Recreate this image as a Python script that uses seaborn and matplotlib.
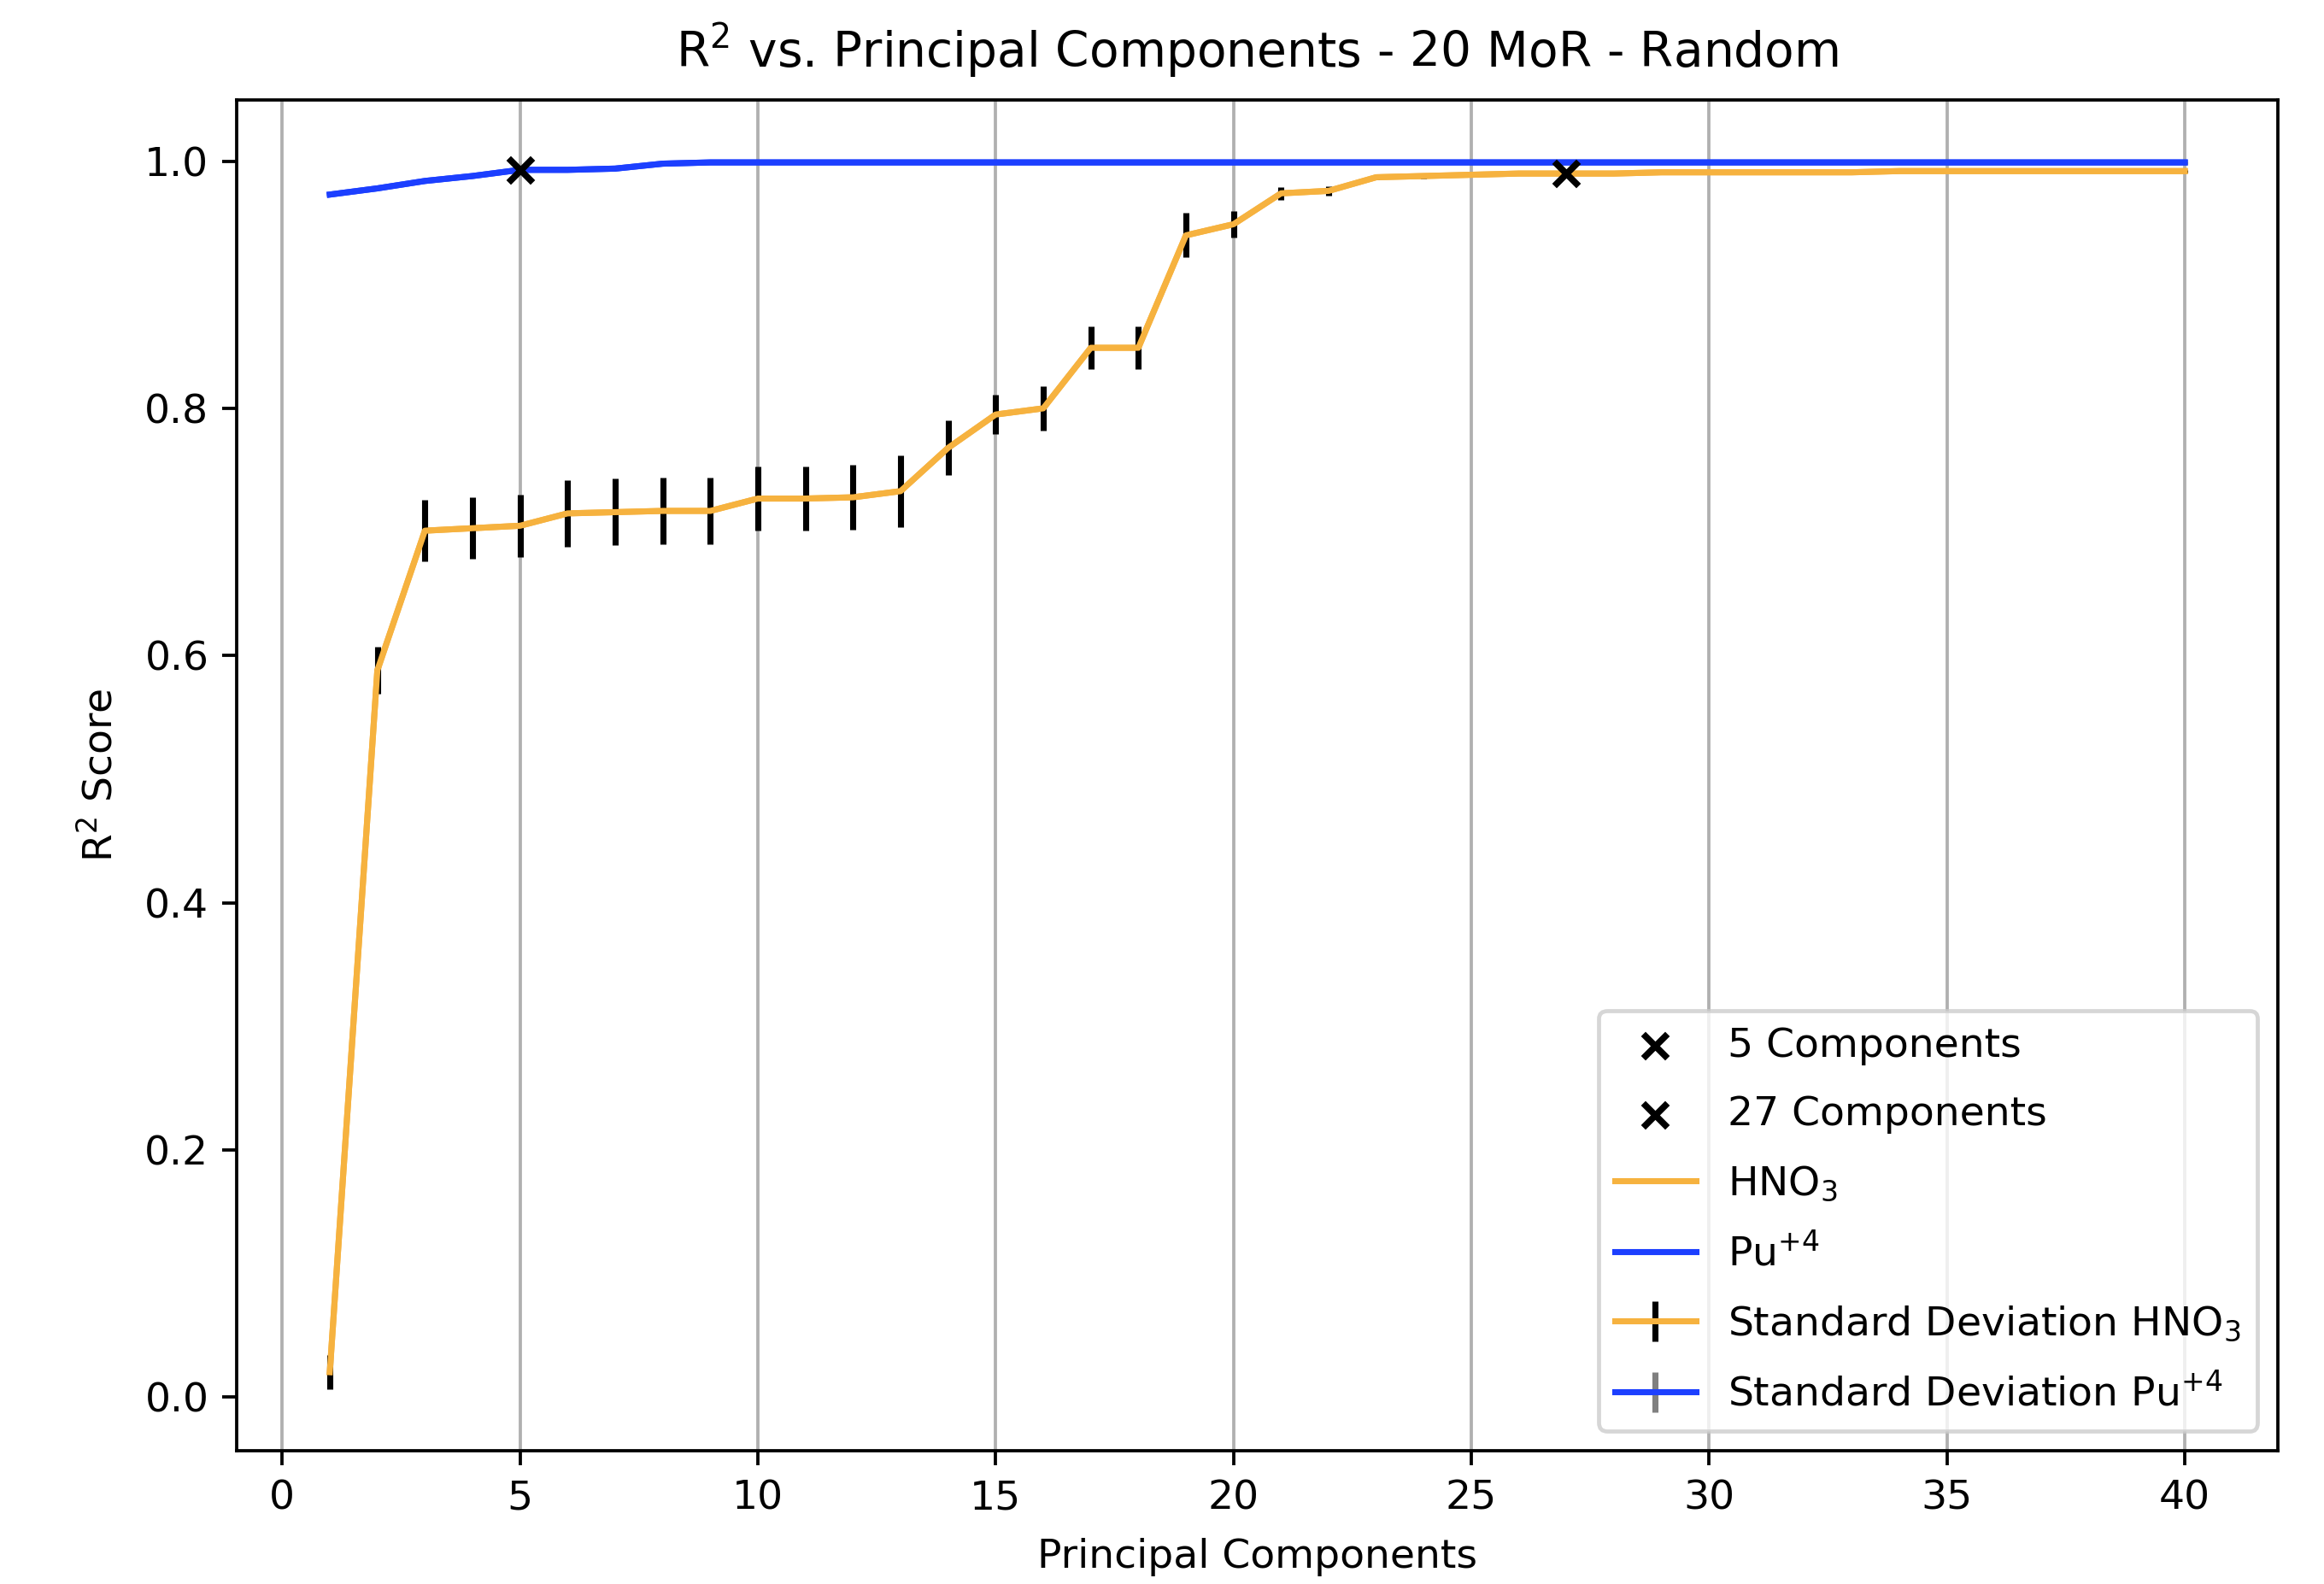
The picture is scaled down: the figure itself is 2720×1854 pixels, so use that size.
import matplotlib
matplotlib.use("Agg")
import matplotlib.pyplot as plt
import seaborn as sns
import numpy as np

# Number of principal components evaluated
components = list(range(1, 41))

# Mean R^2 score per component count
hno3_r2 = [0.020, 0.588, 0.701, 0.703, 0.705, 0.715, 0.716, 0.717, 0.717, 0.727,
           0.727, 0.728, 0.733, 0.768, 0.795, 0.800, 0.849, 0.849, 0.940, 0.949,
           0.974, 0.976, 0.987, 0.988, 0.989, 0.990, 0.990, 0.990, 0.991, 0.991,
           0.991, 0.991, 0.991, 0.992, 0.992, 0.992, 0.992, 0.992, 0.992, 0.992]
pu_r2 = [0.973, 0.978, 0.984, 0.988, 0.993, 0.993, 0.994, 0.998, 0.999, 0.999,
         0.999, 0.999, 0.999, 0.999, 0.999, 0.999, 0.999, 0.999, 0.999, 0.999,
         0.999, 0.999, 0.999, 0.999, 0.999, 0.999, 0.999, 0.999, 0.999, 0.999,
         0.999, 0.999, 0.999, 0.999, 0.999, 0.999, 0.999, 0.999, 0.999, 0.999]

# Standard deviation of R^2 across the random splits
hno3_std = [0.014, 0.019, 0.025, 0.025, 0.025, 0.027, 0.027, 0.027, 0.027, 0.026,
            0.026, 0.026, 0.029, 0.022, 0.016, 0.018, 0.017, 0.017, 0.018, 0.011,
            0.005, 0.004, 0.002, 0.002, 0.001, 0.001, 0.001, 0.001, 0.001, 0.001,
            0.001, 0.001, 0.001, 0.001, 0.001, 0.001, 0.001, 0.001, 0.001, 0.001]
pu_std = [0.001] * 40

# Selected component counts
selected_labels = ["5 Components", "27 Components"]
selected_x = [5, 27]
selected_y = [0.993, 0.990]

hno3_color = "#F6B23F"
pu_color = "#1C3FFF"

plt.rcdefaults()
plt.rcParams["font.family"] = ["DejaVu Sans"]

fig = plt.figure(figsize=(8, 5.453), dpi=340)
ax = fig.add_axes([0.102, 0.084, 0.878, 0.853])

for lab, xs, ys in zip(selected_labels, selected_x, selected_y):
    ax.scatter([xs], [ys], marker="x", color="black", s=36, linewidths=1.6,
               label=lab, zorder=3)

sns.lineplot(x=components, y=hno3_r2, color=hno3_color, linewidth=1.5,
             label="HNO$_3$", ax=ax)
sns.lineplot(x=components, y=pu_r2, color=pu_color, linewidth=1.5,
             label="Pu$^{+4}$", ax=ax)

ax.errorbar(components, hno3_r2, yerr=hno3_std, color=hno3_color, ecolor="black",
            linewidth=1.5, elinewidth=1.5, label="Standard Deviation HNO$_3$")
ax.errorbar(components, pu_r2, yerr=pu_std, color=pu_color, ecolor="grey",
            linewidth=1.5, elinewidth=1.5, label="Standard Deviation Pu$^{+4}$")

ax.set_xticks(range(0, 41, 5))
ax.grid(axis="x", color="#b0b0b0", linewidth=0.8)
ax.set_axisbelow(True)
ax.set_title("R$^2$ vs. Principal Components - 20 MoR - Random", pad=8)
ax.set_xlabel("Principal Components", labelpad=5)
ax.set_ylabel("R$^2$ Score", labelpad=6)
ax.legend(loc="lower right", labelspacing=0.75)

fig.savefig("out.png", dpi=340)
